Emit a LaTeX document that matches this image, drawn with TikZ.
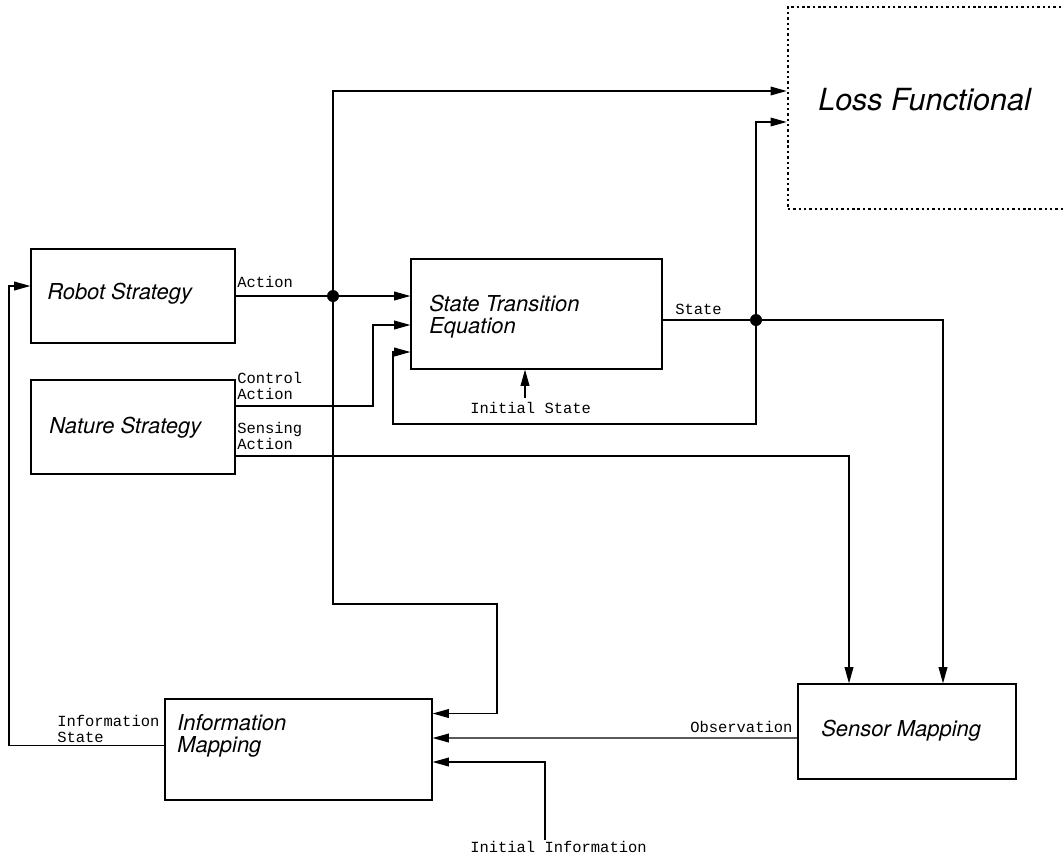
\documentclass[tikz,border=0pt]{standalone}
\usepackage{fontspec}
\setsansfont{TeX Gyre Heros}
\setmonofont{Liberation Mono}
\usetikzlibrary{arrows.meta,calc}

\newcommand\colorBlock{black}
\newcommand\colorWire{black}
\newcommand\px{0.025cm}

\tikzset{
	block/.style={draw=\colorBlock, line width=0.9pt, rectangle, inner sep=0pt},
	lossblock/.style={draw=\colorBlock, line width=1.9pt, dash pattern=on 1.7pt off 2.1pt, inner sep=0pt},
	blocktext/.style={anchor=base west, inner sep=0pt, align=left, font=\sffamily\itshape\fontsize{15.6}{15.6}\selectfont},
	wirelabel/.style={anchor=base west, inner sep=0pt, align=left, font=\ttfamily\fontsize{11}{11}\selectfont},
	wire/.style={draw=\colorWire, line width=0.9pt},
	arr/.style={wire, -{Triangle[length=11.5pt,width=6.2pt]}},
}

\begin{document}
\begin{tikzpicture}[x=\px, y=-\px]
	\clip (0,0) rectangle (1064,864);
	
	% blocks
	\node[block, minimum width=204*\px, minimum height=94*\px] (robot) at (133,296) {};
	\node[block, minimum width=204*\px, minimum height=94*\px] (nature) at (133,427) {};
	\node[block, minimum width=251*\px, minimum height=110*\px] (ste) at (536.5,314) {};
	\node[lossblock, minimum width=300*\px, minimum height=202*\px] (loss) at (938,108) {};
	\node[block, minimum width=267*\px, minimum height=101*\px] (info) at (298.5,749.5) {};
	\node[block, minimum width=218*\px, minimum height=95*\px] (sensor) at (907,731.5) {};
	
	% base of the last line
	\node[blocktext] (robotText) at (47,299) {Robot Strategy};
	\node[blocktext] (natureText) at (49,433) {Nature Strategy};
	\node[blocktext] (steText) at (429,333) {State Transition\\Equation};
	\node[blocktext, font=\sffamily\itshape\fontsize{21.7}{21.7}\selectfont] (lossText) at (818,110) {Loss Functional};
	\node[blocktext] (infoText) at (177,752) {Information\\Mapping};
	\node[blocktext] (sensorText) at (821,736) {Sensor Mapping};
	
	% wire labels
	\foreach \name/\x/\y/\txt in {
		actionLbl/237/287/Action,
		controlLbl/237/399/{Control\\Action},
		sensingLbl/237/449/{Sensing\\Action},
		stateLbl/675/314/State,
		initStateLbl/470/413/{Initial State},
		infoStateLbl/57/742/{Information\\State},
		obsLbl/690/732/Observation,
		initInfoLbl/470/852/{Initial Information}}{
		\node[wirelabel] (\name) at (\x,\y) {\txt};
	}
	
	% action
	\coordinate (actDot) at (333,296);
	\coordinate (actLow) at (497,604);
	\draw[wire] (robot.east) -- (actDot);
	\draw[arr] (actDot) -- (ste.west |- actDot);
	\draw[arr] (actDot) |- ($(loss.west)+(0,-17)$);
	\draw[arr] (actDot) |- (actLow) |- ($(info.east)+(0,-36)$);
	
	% nature
	\coordinate (ctrlBend) at (373,406);
	\draw[arr] (nature.east |- ctrlBend) -- (ctrlBend) |- ($(ste.west)+(0,11)$);
	\draw[arr] ($(nature.east)+(0,29)$) -| ($(sensor.north)+(-58,0)$);
	
	% initial state
	\coordinate (isIn) at ($(ste.south)+(-11.5,0)$);
	\draw[arr] ($(isIn)+(0,28)$) -- (isIn);
	
	% state
	\coordinate (stDot) at (756,320);
	\coordinate (fbLow) at (393,424);
	\draw[wire] (ste.east |- stDot) -- (stDot);
	\draw[arr] (stDot) -| ($(sensor.north)+(36,0)$);
	\draw[arr] (stDot) |- ($(loss.west)+(0,14)$);
	\draw[arr] (stDot) |- (fbLow) |- ($(ste.west)+(0,38)$);
	
	% observation, initial information
	\draw[arr] ($(sensor.west)+(0,6.5)$) -- ($(info.east)+(0,-11.5)$);
	\coordinate (iiUp) at (545,840);
	\draw[arr] (iiUp) |- ($(info.east)+(0,12.5)$);
	
	% information state
	\coordinate (isLeft) at (9,286);
	\draw[arr] ($(info.west)+(0,-4)$) -| (isLeft) -- (robot.west |- isLeft);
	
	\foreach \d in {actDot, stDot}{
		\fill[\colorWire] (\d) circle[radius=6*\px];
	}
\end{tikzpicture}
\end{document}
